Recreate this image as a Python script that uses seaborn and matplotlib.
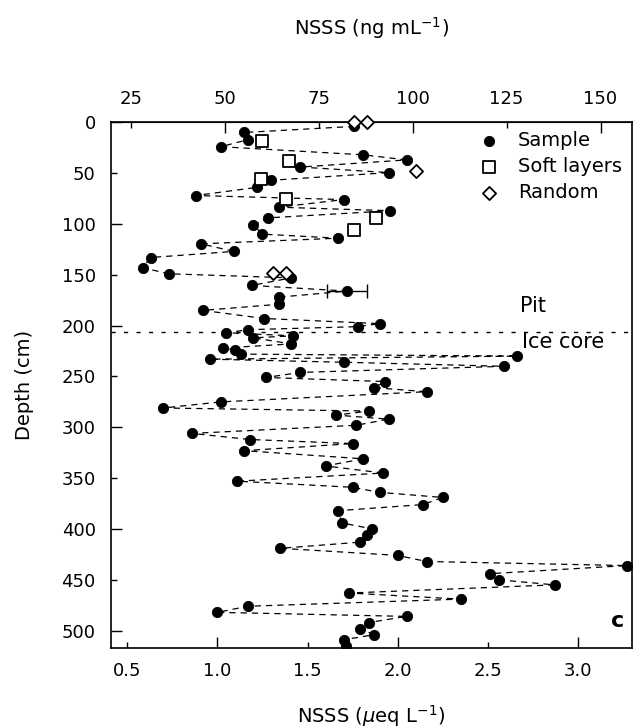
import numpy as np
import pandas as pd
import matplotlib
matplotlib.use("Agg")
import matplotlib.pyplot as plt
import seaborn as sns
from matplotlib.ticker import FixedLocator, FormatStrFormatter

# Sample points: depth (cm) and NSSS (ueq/L)
sample_depth = [4, 10, 17, 24, 32, 37, 44, 49.5, 57, 64, 72, 76, 83.5, 87, 94, 101,
                110, 114, 119.5, 127, 133, 143, 149, 153, 160.5, 166, 172, 179, 185,
                193, 198, 201, 204, 207, 210, 212, 218, 222, 224, 228, 230, 233, 236,
                240, 246, 251, 255, 261, 265, 275, 281, 284, 288, 292, 298, 306, 312,
                316, 323, 331, 338, 345, 353, 359, 364, 369, 376, 382, 394, 400, 406,
                413, 419, 426, 432, 436, 444, 450, 455, 463, 469, 476, 482, 486, 492,
                498, 504, 509, 515]
sample_nsss = [1.76, 1.15, 1.17, 1.02, 1.81, 2.05, 1.46, 1.95, 1.30, 1.22, 0.88, 1.70,
               1.34, 1.96, 1.28, 1.20, 1.25, 1.67, 0.91, 1.09, 0.63, 0.585, 0.73, 1.41,
               1.19, 1.72, 1.34, 1.34, 0.92, 1.26, 1.90, 1.78, 1.17, 1.05, 1.42, 1.20,
               1.41, 1.03, 1.10, 1.13, 2.66, 0.96, 1.70, 2.59, 1.46, 1.27, 1.93, 1.87,
               2.16, 1.02, 0.70, 1.84, 1.66, 1.95, 1.77, 0.86, 1.18, 1.75, 1.15, 1.81,
               1.60, 1.92, 1.11, 1.75, 1.90, 2.25, 2.14, 1.67, 1.69, 1.86, 1.83, 1.79,
               1.35, 2.00, 2.16, 3.27, 2.51, 2.56, 2.87, 1.73, 2.35, 1.17, 1.00, 2.05,
               1.84, 1.79, 1.87, 1.70, 1.715]

soft_depth = [18, 38, 56, 75, 94, 106]
soft_nsss = [1.25, 1.40, 1.24, 1.38, 1.88, 1.76]

random_depth = [0, 0, 48, 148, 148]
random_nsss = [1.76, 1.83, 2.10, 1.31, 1.38]

# sample with error bar
err_depth = 166
err_nsss = 1.72
err_x = 0.11

boundary_depth = 206

sns.set_style("ticks")
plt.rcParams["font.family"] = ["DejaVu Sans"]
plt.rcParams.update({"text.color": "black", "axes.labelcolor": "black",
                     "xtick.color": "black", "ytick.color": "black",
                     "axes.edgecolor": "black"})

fig = plt.figure(figsize=(6.34, 7.28), dpi=100)
ax = fig.add_axes([0.175, 0.11, 0.822, 0.722])

df = pd.DataFrame({"depth": sample_depth, "nsss": sample_nsss})
sns.lineplot(data=df, x="nsss", y="depth", sort=False, estimator=None, ax=ax,
             color="black", lw=0.9, dashes=False, linestyle=(0, (5, 4)))
sns.scatterplot(data=df, x="nsss", y="depth", ax=ax, color="black", s=55,
                edgecolor="black", label="Sample", zorder=3)
sns.scatterplot(x=soft_nsss, y=soft_depth, ax=ax, marker="s", s=70,
                facecolor="white", edgecolor="black", linewidth=1.3,
                label="Soft layers", zorder=4)
sns.scatterplot(x=random_nsss, y=random_depth, ax=ax, marker="D", s=45,
                facecolor="white", edgecolor="black", linewidth=1.3,
                label="Random", zorder=4, clip_on=False)
ax.errorbar([err_nsss], [err_depth], xerr=[err_x], fmt="none", ecolor="black",
            elinewidth=1, capsize=5, zorder=2)

ax.axhline(boundary_depth, color="black", lw=1, linestyle=(0, (3, 6)))
ax.text(2.68, 181, "Pit", fontsize=15, va="center", ha="left")
ax.text(2.69, 216, "Ice core", fontsize=15, va="center", ha="left")
ax.text(3.22, 491, "c", fontsize=16, fontweight="bold", va="center", ha="center")

ax.set_xlim(0.41, 3.3)
ax.set_ylim(517, 0)

ax.xaxis.set_major_locator(FixedLocator([1.0, 2.0, 3.0]))
ax.xaxis.set_minor_locator(FixedLocator([0.5, 1.5, 2.5]))
ax.xaxis.set_major_formatter(FormatStrFormatter("%.1f"))
ax.xaxis.set_minor_formatter(FormatStrFormatter("%.1f"))
ax.yaxis.set_major_locator(FixedLocator([0, 100, 200, 300, 400, 500]))
ax.yaxis.set_minor_locator(FixedLocator([50, 150, 250, 350, 450]))
ax.yaxis.set_major_formatter(FormatStrFormatter("%d"))
ax.yaxis.set_minor_formatter(FormatStrFormatter("%d"))
ax.tick_params(which="both", direction="in", labelsize=13, width=1)
ax.tick_params(which="major", length=8)
ax.tick_params(which="minor", length=4)
ax.tick_params(axis="x", which="both", pad=10)
ax.tick_params(axis="y", which="both", pad=11)

sec = ax.secondary_xaxis("top", functions=(lambda v: v * 48.0, lambda v: v / 48.0))
sec.xaxis.set_major_locator(FixedLocator([50, 100, 150]))
sec.xaxis.set_minor_locator(FixedLocator([25, 75, 125]))
sec.xaxis.set_major_formatter(FormatStrFormatter("%d"))
sec.xaxis.set_minor_formatter(FormatStrFormatter("%d"))
sec.tick_params(which="both", direction="in", labelsize=13, width=1, pad=10)
sec.tick_params(which="major", length=8)
sec.tick_params(which="minor", length=4)
sec.set_xlabel(r"NSSS (ng mL$^{-1}$)", fontsize=14, labelpad=40)

ax.set_xlabel(r"NSSS ($\mu$eq L$^{-1}$)", fontsize=14, labelpad=17)
ax.set_ylabel("Depth (cm)", fontsize=14, labelpad=20)

for sp in ax.spines.values():
    sp.set_linewidth(1.2)

ax.legend(loc="upper left", bbox_to_anchor=(0.68, 0.99), frameon=False,
          fontsize=14, handletextpad=0.5, labelspacing=0.35, borderaxespad=0.0,
          borderpad=0.2)

fig.savefig("out.png", dpi=100)
